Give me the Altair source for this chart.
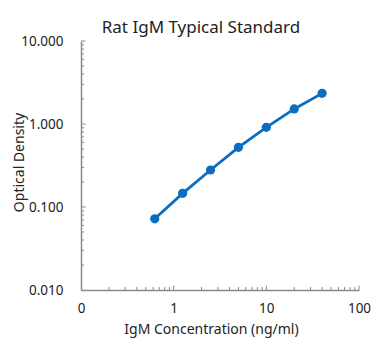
import altair as alt
import pandas as pd

conc = [0.625, 1.25, 2.5, 5, 10, 20, 40]
od = [0.072, 0.146, 0.279, 0.524, 0.912, 1.52, 2.34]

x_major = [0.1, 1, 10, 100]
x_minor = [0.2, 0.3, 0.4, 0.5, 0.6, 0.7, 0.8, 0.9,
           2, 3, 4, 5, 6, 7, 8, 9,
           20, 30, 40, 50, 60, 70, 80, 90]
y_major = [0.01, 0.1, 1, 10]
y_minor = [0.02, 0.03, 0.04, 0.05, 0.06, 0.07, 0.08, 0.09,
           0.2, 0.3, 0.4, 0.5, 0.6, 0.7, 0.8, 0.9,
           2, 3, 4, 5, 6, 7, 8, 9]

W, H = 278, 249
FONT = "Noto Sans"
BLUE = "#0b6dbf"
AX = "#8a8a8a"

df = pd.DataFrame({"conc": conc, "od": od})
xs = alt.Scale(type="log", domain=[0.1, 100], nice=False)
ys = alt.Scale(type="log", domain=[0.01, 10], nice=False)

xaxis = alt.Axis(values=x_major, ticks=False, grid=False, domainColor=AX, domainWidth=1.5,
                 labelExpr="datum.value < 0.5 ? '0' : format(datum.value, 'd')",
                 labelFlush=False, labelOverlap=False,
                 labelPadding=11, labelFontSize=13.5, labelColor="#222", labelFont=FONT,
                 title="IgM Concentration (ng/ml)", titleFont=FONT, titleFontSize=14,
                 titleFontWeight="normal", titleColor="#222", titlePadding=8, titleX=130)
yaxis = alt.Axis(values=y_major, ticks=False, grid=False, domainColor=AX, domainWidth=1.5,
                 format=".3f", labelFlush=False, labelOverlap=False,
                 labelPadding=18, labelFontSize=13.5, labelColor="#222",
                 labelFont=FONT, title="Optical Density", titleFont=FONT, titleFontSize=14,
                 titleFontWeight="normal", titleColor="#222",
                 titleX=-62, titleY=121, titleBaseline="middle", titleAlign="center")

base = alt.Chart(df)
line = base.mark_line(color=BLUE, strokeWidth=2.8).encode(
    x=alt.X("conc:Q", scale=xs, axis=xaxis),
    y=alt.Y("od:Q", scale=ys, axis=yaxis),
)
pts = base.mark_circle(color=BLUE, size=85, opacity=1).encode(
    x=alt.X("conc:Q", scale=xs), y=alt.Y("od:Q", scale=ys)
)

xmin_df = pd.DataFrame({"v": x_minor})
xmaj_df = pd.DataFrame({"v": x_major[1:]})
ymin_df = pd.DataFrame({"v": y_minor})
ymaj_df = pd.DataFrame({"v": y_major[1:]})

xminor = alt.Chart(xmin_df).mark_rule(color=AX, strokeWidth=1).encode(
    x=alt.X("v:Q", scale=xs), y=alt.value(H), y2=alt.value(H - 3))
xmajor = alt.Chart(xmaj_df).mark_rule(color=AX, strokeWidth=1).encode(
    x=alt.X("v:Q", scale=xs), y=alt.value(H), y2=alt.value(H - 4.5))
yminor = alt.Chart(ymin_df).mark_rule(color=AX, strokeWidth=1).encode(
    y=alt.Y("v:Q", scale=ys), x=alt.value(0), x2=alt.value(3))
ymajor = alt.Chart(ymaj_df).mark_rule(color=AX, strokeWidth=1).encode(
    y=alt.Y("v:Q", scale=ys), x=alt.value(0), x2=alt.value(4.5))

chart = alt.layer(xminor, xmajor, yminor, ymajor, line, pts).properties(
    width=W, height=H,
    title=alt.TitleParams("Rat IgM Typical Standard", font=FONT, fontSize=17,
                          fontWeight="normal", color="#222", anchor="middle",
                          dx=-19, dy=3, offset=0),
    autosize=alt.AutoSizeParams(type="none"),
    padding={"left": 73, "top": 33, "right": 16, "bottom": 54},
).configure_view(stroke=None)

chart.save("out.html", embed_options={"renderer": "svg", "actions": False})
